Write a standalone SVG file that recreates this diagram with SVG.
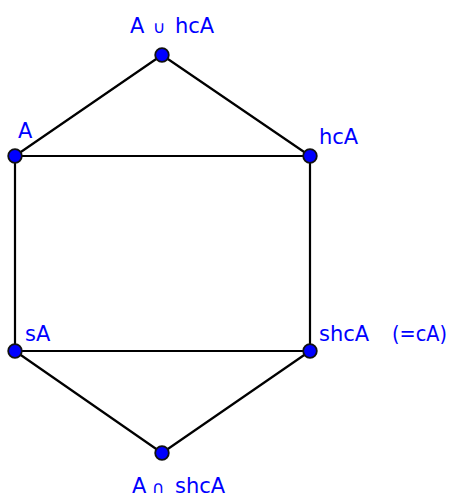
<svg xmlns="http://www.w3.org/2000/svg" width="453" height="497" viewBox="0 0 453 497">
<style>
.edge{stroke:#000;stroke-width:2.2;fill:none;stroke-linecap:round}
.pt{fill:#0000ff;stroke:#111;stroke-width:1.8}
.lbl{font-family:"DejaVu Sans","Liberation Sans",sans-serif;font-size:21px;fill:#0000ff}
.op{font-size:17px}
</style>
<rect width="453" height="497" fill="#fff"/>
<g id="connectors">
<line class="edge" x1="162" y1="55" x2="15" y2="156"/>
<line class="edge" x1="162" y1="55" x2="310" y2="156"/>
<line class="edge" x1="15" y1="156" x2="310" y2="156"/>
<line class="edge" x1="15" y1="156" x2="15" y2="351"/>
<line class="edge" x1="310" y1="156" x2="310" y2="351"/>
<line class="edge" x1="15" y1="351" x2="310" y2="351"/>
<line class="edge" x1="15" y1="351" x2="162" y2="453"/>
<line class="edge" x1="310" y1="351" x2="162" y2="453"/>
</g>
<g id="n-union">
<circle class="pt" cx="162" cy="55" r="6.8"/>
<text class="lbl" y="33"><tspan x="130">A</tspan><tspan class="op" x="153">∪</tspan><tspan x="175">hcA</tspan></text>
</g>
<g id="n-A">
<circle class="pt" cx="15" cy="156" r="6.8"/>
<text class="lbl" x="18" y="138">A</text>
</g>
<g id="n-hcA">
<circle class="pt" cx="310" cy="156" r="6.8"/>
<text class="lbl" x="319" y="144">hcA</text>
</g>
<g id="n-sA">
<circle class="pt" cx="15" cy="351" r="6.8"/>
<text class="lbl" x="25" y="341">sA</text>
</g>
<g id="n-shcA">
<circle class="pt" cx="310" cy="351" r="6.8"/>
<text class="lbl" y="341"><tspan x="319">shcA</tspan><tspan x="392" textLength="55" lengthAdjust="spacingAndGlyphs">(=cA)</tspan></text>
</g>
<g id="n-intersection">
<circle class="pt" cx="162" cy="453" r="6.8"/>
<text class="lbl" y="493"><tspan x="132">A</tspan><tspan class="op" x="152">∩</tspan><tspan x="175">shcA</tspan></text>
</g>
</svg>
